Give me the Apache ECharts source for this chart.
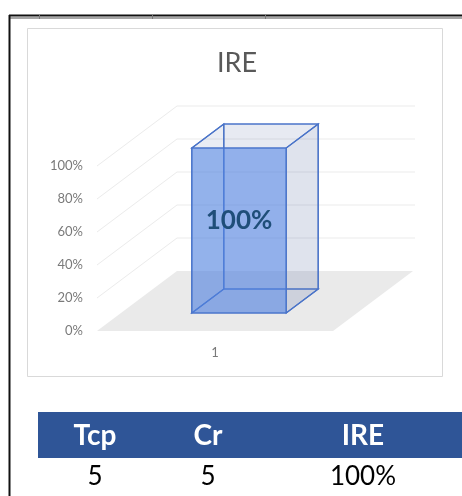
<!DOCTYPE html>
<html>
<head>
<meta charset="utf-8">
<script src="https://cdn.jsdelivr.net/npm/echarts@6/dist/echarts.min.js"></script>
<style>
  html, body { margin: 0; padding: 0; background: #fff; }
  #main { width: 462px; height: 496px; }
</style>
</head>
<body>
<div id="main"></div>
<script>
// data
var chartTitle = "IRE";
var categories = ["1"];
var ireValues = [1];
var yTicks = [0, 0.2, 0.4, 0.6, 0.8, 1];
var tableHeaders = ["Tcp", "Cr", "IRE"];
var tableRow = ["5", "5", "100%"];

// fake 3d depth (pixels for the full floor depth)
var DX = 80, DY = -60;
var FONT = "Lato, 'Open Sans', sans-serif";
var colX = [95, 208, 363];

function pct(v) {
  return Math.round(v * 100) + "%";
}

function renderWalls(params, api) {
  var v = api.value(1);
  var p = api.coord([api.value(0), v]);
  var bw = api.size([1, 0])[0];
  var x0 = p[0] - bw / 2, x1 = p[0] + bw / 2, y = p[1];
  if (v === 0) {
    return {
      type: "polygon",
      shape: { points: [[x0, y], [x1, y], [x1 + DX, y + DY], [x0 + DX, y + DY]] },
      style: { fill: "#eaeaea" }
    };
  }
  return {
    type: "polyline",
    shape: { points: [[x0, y], [x0 + DX, y + DY], [x1 + DX + 2, y + DY]] },
    style: { stroke: "#ebebeb", lineWidth: 1, fill: null }
  };
}

function renderBox(params, api) {
  var b = api.coord([api.value(0), 0]);
  var t = api.coord([api.value(0), api.value(1)]);
  var bw = api.size([1, 0])[0];
  var half = bw * 0.2;
  var xl = b[0] - half, xr = b[0] + half, yb = b[1], yt = t[1];
  var d0 = 0.3, d1 = 0.7;
  function p(x, y, d) { return [x + DX * d, y + DY * d]; }
  var edge = "#4a74c9";
  function face(pts, fill) {
    return {
      type: "polygon",
      shape: { points: pts },
      style: { fill: fill, stroke: edge, lineWidth: 1.2 }
    };
  }
  var fc = p((xl + xr) / 2, (yb + yt) / 2, d0);
  return {
    type: "group",
    children: [
      face([p(xl, yb, d1), p(xr, yb, d1), p(xr, yt, d1), p(xl, yt, d1)], "rgba(80,100,160,0.06)"),
      face([p(xl, yb, d0), p(xl, yb, d1), p(xl, yt, d1), p(xl, yt, d0)], "rgba(80,100,160,0.04)"),
      face([p(xl, yb, d0), p(xr, yb, d0), p(xr, yb, d1), p(xl, yb, d1)], "rgba(80,100,160,0.06)"),
      face([p(xr, yb, d0), p(xr, yb, d1), p(xr, yt, d1), p(xr, yt, d0)], "rgba(80,100,160,0.13)"),
      face([p(xl, yt, d0), p(xr, yt, d0), p(xr, yt, d1), p(xl, yt, d1)], "rgba(80,100,160,0.08)"),
      face([p(xl, yb, d0), p(xr, yb, d0), p(xr, yt, d0), p(xl, yt, d0)], "rgba(80,130,225,0.6)"),
      {
        type: "text",
        x: fc[0],
        y: fc[1] - 10,
        style: {
          text: pct(api.value(1)),
          fill: "#1f4e79",
          font: "bold 26px " + FONT,
          align: "center",
          verticalAlign: "middle"
        }
      }
    ]
  };
}

var chart = echarts.init(document.getElementById("main"));

var graphics = [
  // sheet cell borders behind the chart
  { type: "line", shape: { x1: 9, y1: 15.5, x2: 462, y2: 15.5 }, style: { stroke: "#111", lineWidth: 2 } },
  { type: "line", shape: { x1: 10, y1: 18, x2: 462, y2: 18 }, style: { stroke: "#a5a5a5", lineWidth: 2 } },
  { type: "line", shape: { x1: 9.5, y1: 15, x2: 9.5, y2: 496 }, style: { stroke: "#111", lineWidth: 2 } },
  { type: "line", shape: { x1: 39.5, y1: 15, x2: 39.5, y2: 19 }, style: { stroke: "#777", lineWidth: 1 } },
  { type: "line", shape: { x1: 152.5, y1: 15, x2: 152.5, y2: 19 }, style: { stroke: "#777", lineWidth: 1 } },
  { type: "line", shape: { x1: 265.5, y1: 15, x2: 265.5, y2: 19 }, style: { stroke: "#777", lineWidth: 1 } },
  // chart area
  { type: "rect", z: -1, shape: { x: 27.5, y: 28.5, width: 415, height: 348 }, style: { fill: "#fff", stroke: "#d9d9d9", lineWidth: 1 } },
  // table header
  { type: "rect", shape: { x: 38, y: 412, width: 424, height: 46 }, style: { fill: "#2f5597" } }
];
tableHeaders.forEach(function (h, i) {
  graphics.push({
    type: "text", x: colX[i], y: 436,
    style: { text: h, fill: "#fff", font: "bold 28px " + FONT, align: "center", verticalAlign: "middle" }
  });
});
tableRow.forEach(function (v, i) {
  graphics.push({
    type: "text", x: colX[i], y: 477,
    style: { text: v, fill: "#000", font: "26px " + FONT, align: "center", verticalAlign: "middle" }
  });
});

var option = {
  animation: false,
  backgroundColor: "#fff",
  title: {
    text: chartTitle,
    left: 212,
    top: 45,
    textStyle: { color: "#595959", fontSize: 27, fontWeight: "normal", fontFamily: FONT }
  },
  grid: { left: 97, top: 166, width: 236, height: 165 },
  xAxis: {
    type: "category",
    data: categories,
    axisLine: { show: false },
    axisTick: { show: false },
    axisLabel: { color: "#7a7a7a", fontSize: 13, margin: 15, fontFamily: FONT }
  },
  yAxis: {
    type: "value",
    min: 0,
    max: 1,
    interval: 0.2,
    axisLine: { show: false },
    axisTick: { show: false },
    splitLine: { show: false },
    axisLabel: {
      color: "#7a7a7a",
      fontSize: 13,
      margin: 14,
      fontFamily: FONT,
      formatter: pct
    }
  },
  graphic: graphics,
  series: [
    {
      type: "custom",
      name: "walls",
      silent: true,
      renderItem: renderWalls,
      data: yTicks.map(function (v) { return [0, v]; }),
      z: 1
    },
    {
      type: "custom",
      name: chartTitle,
      renderItem: renderBox,
      data: ireValues.map(function (v, i) { return [i, v]; }),
      z: 3
    }
  ]
};
chart.setOption(option);
window.addEventListener("resize", function () {
  chart.resize();
});
</script>
</body>
</html>
